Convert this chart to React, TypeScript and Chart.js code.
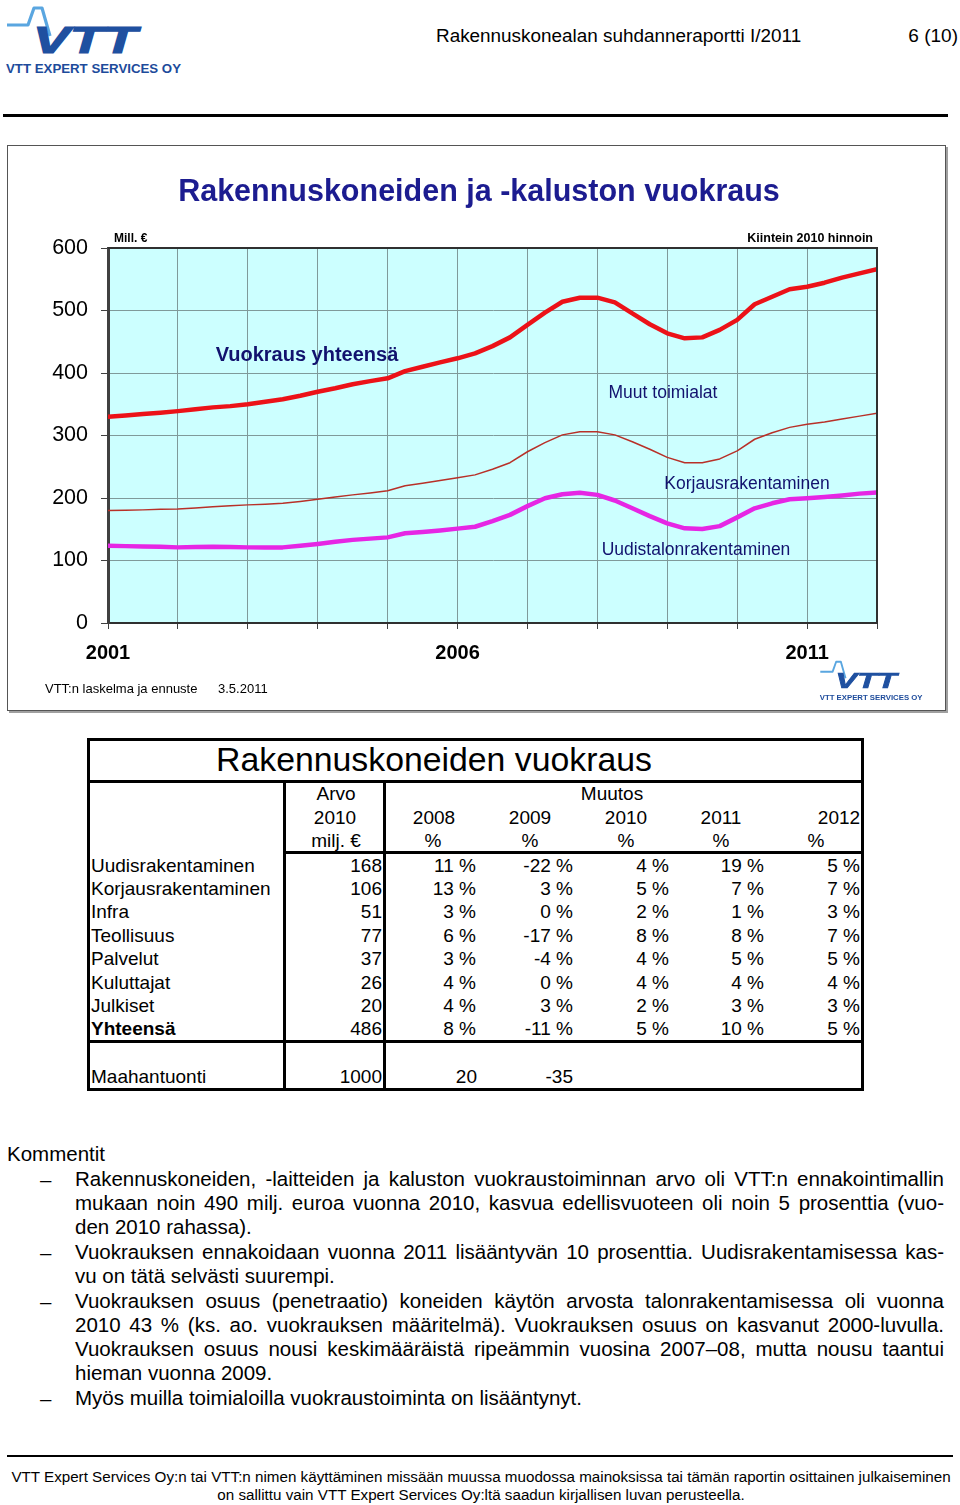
import React, { useEffect, useRef } from "react";
import { Chart, registerables } from "chart.js";

Chart.register(...registerables);

const FONT = '"Liberation Sans", Arial, Helvetica, sans-serif';

// ---- chart data (quarterly, cumulative lines, Mill. €, 2010 prices) ----
const startYear = 2001;
const quarterCount = 45; // 2001Q1 .. 2012Q1 position
const axisYears = [2001, 2002, 2003, 2004, 2005, 2006, 2007, 2008, 2009, 2010, 2011, 2012];
const labelYears = [2001, 2006, 2011];
const yTicks = [0, 100, 200, 300, 400, 500, 600];

const uudistalo = [123.7, 123, 122.5, 122, 121, 121.5, 122, 121.5, 121, 121, 121, 123.5, 126.5, 130, 133, 135, 137, 143.5, 145.5, 148, 151, 154, 163, 173, 187, 199.5, 206, 208.5, 205, 196, 183.5, 171, 159.5, 151.5, 150.5, 155, 169, 183.5, 191.5, 198, 199.5, 201.5, 204, 207, 209];
const korjaus = [180, 180.5, 181, 182, 182.5, 184, 186, 187.5, 189, 190, 191.5, 194.5, 198, 201.5, 205, 208, 211.5, 219.5, 223.5, 228, 232.5, 237, 246, 256.5, 274, 288.5, 301, 306, 306, 301, 290, 278, 265, 256.5, 256.5, 262.5, 275.5, 294, 304.5, 313, 318, 321.5, 326.5, 331, 335.5];
const yhteensa = [330, 332, 334.5, 336.5, 339, 342, 345, 347, 350, 354, 358, 363.5, 370, 375.5, 382, 387, 391.5, 403, 410, 417, 423.5, 431.5, 443, 457, 477, 496.5, 514, 520.5, 520.5, 513, 495.5, 478, 463.5, 455.5, 457, 469, 485, 510, 522, 534, 538, 544.5, 552.5, 559.5, 566];

// ---- table data ----
const rowLabels = ["Uudisrakentaminen", "Korjausrakentaminen", "Infra", "Teollisuus", "Palvelut", "Kuluttajat", "Julkiset", "Yhteensä"];
const arvo2010 = [168, 106, 51, 77, 37, 26, 20, 486];
const chg2008 = [11, 13, 3, 6, 3, 4, 4, 8];
const chg2009 = [-22, 3, 0, -17, -4, 0, 3, -11];
const chg2010 = [4, 5, 2, 8, 4, 4, 2, 5];
const chg2011 = [19, 7, 1, 8, 5, 4, 3, 10];
const chg2012 = [5, 7, 3, 7, 5, 4, 3, 5];
const changeYears = ["2008", "2009", "2010", "2011", "2012"];
const maahantuonti = ["1000", "20", "-35"];

const commentLines: [string, boolean, boolean][] = [
  ["Rakennuskoneiden, -laitteiden ja kaluston vuokraustoiminnan arvo oli VTT:n ennakointimallin", true, true],
  ["mukaan noin 490 milj. euroa vuonna 2010, kasvua edellisvuoteen oli noin 5 prosenttia (vuo-", true, false],
  ["den 2010 rahassa).", false, false],
  ["Vuokrauksen ennakoidaan vuonna 2011 lisääntyvän 10 prosenttia. Uudisrakentamisessa kas-", true, true],
  ["vu on tätä selvästi suurempi.", false, false],
  ["Vuokrauksen osuus (penetraatio) koneiden käytön arvosta talonrakentamisessa oli vuonna", true, true],
  ["2010 43 % (ks. ao. vuokrauksen määritelmä). Vuokrauksen osuus on kasvanut 2000-luvulla.", true, false],
  ["Vuokrauksen osuus nousi keskimääräistä ripeämmin vuosina 2007–08, mutta nousu taantui", true, false],
  ["hieman vuonna 2009.", false, false],
  ["Myös muilla toimialoilla vuokraustoiminta on lisääntynyt.", false, true],
];

const xs = Array.from({ length: quarterCount }, (_, k) => startYear + k / 4);
const toPoints = (vals: number[]) => vals.map((v, i) => ({ x: xs[i], y: v }));

type TP = { x: number; y: number; s: number; b?: boolean; a?: "left" | "center" | "right"; c?: string; children: any; ff?: string };
function T({ x, y, s, b, a = "left", c = "#000", children, ff }: TP) {
  const h = Math.round(s * 1.2);
  const st: any = {
    position: "absolute",
    top: y - h / 2,
    fontSize: s,
    lineHeight: h + "px",
    whiteSpace: "pre",
    fontWeight: b ? "bold" : "normal",
    color: c,
    fontFamily: ff || FONT,
  };
  if (a === "left") st.left = x;
  else if (a === "center") { st.left = x - 600; st.width = 1200; st.textAlign = "center"; }
  else { st.left = x - 1200; st.width = 1200; st.textAlign = "right"; }
  return <div style={st}>{children}</div>;
}

function Box({ l, t, w, h, bg = "#000" }: { l: number; t: number; w: number; h: number; bg?: string }) {
  return <div style={{ position: "absolute", left: l, top: t, width: w, height: h, background: bg }} />;
}

function VttLogo({ left, top, width, height }: { left: number; top: number; width: number; height: number }) {
  return (
    <svg style={{ position: "absolute", left, top }} width={width} height={height} viewBox="0 0 190 80">
      <path d="M7 25 L28 25 L34 8 L42 8 L50 36" stroke="#5aa6e0" strokeWidth="3.2" fill="none" strokeLinejoin="round" />
      <text x="33" y="53" fontFamily={FONT} fontWeight="900" fontStyle="italic" fontSize="37" fill="#1f50a0" stroke="#1f50a0" strokeWidth="1.2" textLength="104" lengthAdjust="spacingAndGlyphs">VTT</text>
      <text x="6" y="73" fontFamily={FONT} fontWeight="bold" fontSize="13" fill="#1d4b9b" textLength="175" lengthAdjust="spacingAndGlyphs">VTT EXPERT SERVICES OY</text>
    </svg>
  );
}

function RentalChart() {
  const ref = useRef<HTMLCanvasElement | null>(null);
  useEffect(() => {
    if (!ref.current) return;
    const GRID = "#7f9a9a";
    const frame = {
      id: "frame",
      beforeDraw(chart: any) {
        const { ctx, chartArea: a } = chart;
        ctx.save();
        ctx.fillStyle = "#ccffff";
        ctx.fillRect(a.left, a.top, a.right - a.left, a.bottom - a.top);
        ctx.restore();
      },
      afterDraw(chart: any) {
        const { ctx, chartArea: a } = chart;
        ctx.save();
        ctx.strokeStyle = "#303030";
        ctx.lineWidth = 2;
        ctx.beginPath();
        ctx.moveTo(a.left, a.top);
        ctx.lineTo(a.right, a.top);
        ctx.lineTo(a.right, a.bottom);
        ctx.stroke();
        ctx.restore();
      },
    };
    const chart = new Chart(ref.current, {
      type: "line",
      data: {
        datasets: [
          { label: "Uudistalonrakentaminen", data: toPoints(uudistalo), borderColor: "#e626e4", borderWidth: 4.5, pointRadius: 0, tension: 0, borderCapStyle: "round", borderJoinStyle: "round" },
          { label: "Korjausrakentaminen", data: toPoints(korjaus), borderColor: "#b83028", borderWidth: 1.5, pointRadius: 0, tension: 0, borderJoinStyle: "round" },
          { label: "Vuokraus yhteensä", data: toPoints(yhteensa), borderColor: "#ec1218", borderWidth: 4.5, pointRadius: 0, tension: 0, borderCapStyle: "round", borderJoinStyle: "round" },
        ],
      } as any,
      options: {
        animation: false,
        responsive: false,
        maintainAspectRatio: false,
        devicePixelRatio: 1,
        layout: { padding: { left: 0, top: 102, right: 67, bottom: 37 } },
        plugins: { legend: { display: false }, tooltip: { enabled: false } },
        scales: {
          x: {
            type: "linear",
            min: axisYears[0],
            max: axisYears[axisYears.length - 1],
            afterBuildTicks: (s: any) => { s.ticks = axisYears.map((v) => ({ value: v })); },
            afterFit: (s: any) => { s.height = 50; },
            ticks: {
              autoSkip: false,
              maxRotation: 0,
              padding: 12,
              color: "#000",
              font: { family: FONT, size: 20, weight: "bold" },
              callback: (v: any) => (labelYears.includes(Number(v)) ? String(v) : ""),
            },
            grid: { color: GRID, lineWidth: 1, drawTicks: true, tickLength: 6, tickColor: "#404040" },
            border: { display: true, color: "#303030", width: 2 },
          },
          y: {
            min: yTicks[0],
            max: yTicks[yTicks.length - 1],
            afterBuildTicks: (s: any) => { s.ticks = yTicks.map((v) => ({ value: v })); },
            afterFit: (s: any) => { s.width = 100; },
            ticks: { padding: 13, color: "#000", font: { family: FONT, size: 21.5 } },
            grid: { color: GRID, lineWidth: 1, drawTicks: true, tickLength: 7, tickColor: "#404040" },
            border: { display: true, color: "#404040", width: 3 },
          },
        },
      } as any,
      plugins: [frame],
    });
    return () => chart.destroy();
  }, []);
  return <canvas ref={ref} width={936} height={564} style={{ position: "absolute", left: 8, top: 146, width: 936, height: 564 }} />;
}

const pct = (v: number) => `${v} %`;

export default function App() {
  const rowY = [865, 888, 911.5, 935, 958, 982, 1005, 1028];
  const chgCols = [chg2008, chg2009, chg2010, chg2011, chg2012];
  const chgRight = [476, 573, 669, 764, 860];
  const yearCenters = [434, 530, 626, 721, 839];
  const pctCenters = [433, 530, 626, 721, 816];
  const navy = "#12126e";
  const commentY = [1179, 1203, 1227, 1252, 1276, 1301, 1325, 1349, 1373, 1398];
  const TS = 19;
  return (
    <div style={{ position: "absolute", left: 0, top: 0, width: 960, height: 1505, overflow: "hidden", background: "#fff", fontFamily: FONT }}>
      {/* header */}
      <VttLogo left={0} top={0} width={190} height={80} />
      <T x={436} y={35} s={18.9}>Rakennuskonealan suhdanneraportti I/2011</T>
      <T x={958} y={35} s={19} a="right">6 (10)</T>
      <Box l={3} t={114} w={945} h={3} />

      {/* chart frame */}
      <div style={{ position: "absolute", left: 7, top: 145, width: 937, height: 564, border: "1px solid #555", boxShadow: "2px 2px 0 #a0a0a0" }} />
      <RentalChart />
      <T x={479} y={190} s={30.5} b a="center" c="#1c1c90">Rakennuskoneiden ja -kaluston vuokraus</T>
      <T x={114} y={238} s={12} b>Mill. €</T>
      <T x={873} y={238} s={12.5} b a="right">Kiintein 2010 hinnoin</T>
      <T x={307} y={354} s={20} b a="center" c={navy}>Vuokraus yhteensä</T>
      <T x={663} y={392} s={17.5} a="center" c={navy}>Muut toimialat</T>
      <T x={747} y={483} s={17.5} a="center" c={navy}>Korjausrakentaminen</T>
      <T x={696} y={549} s={17.5} a="center" c={navy}>Uudistalonrakentaminen</T>
      <T x={45} y={689} s={13}>VTT:n laskelma ja ennuste</T>
      <T x={218} y={689} s={13}>3.5.2011</T>
      <VttLogo left={816} top={657} width={112} height={47} />

      {/* table */}
      <div style={{ position: "absolute", left: 87, top: 738, width: 771, height: 347, border: "3px solid #000" }} />
      <Box l={87} t={780} w={777} h={3} />
      <Box l={283} t={781} w={3} h={309} />
      <Box l={383} t={781} w={3} h={309} />
      <Box l={283} t={851} w={581} h={3} />
      <Box l={87} t={1040} w={777} h={3} />
      <T x={434} y={759} s={33.8} a="center">Rakennuskoneiden vuokraus</T>
      <T x={336} y={793} s={TS} a="center">Arvo</T>
      <T x={335} y={817} s={TS} a="center">2010</T>
      <T x={336} y={840} s={TS} a="center">milj. €</T>
      <T x={612} y={793} s={TS} a="center">Muutos</T>
      {changeYears.map((yr, i) => (
        <React.Fragment key={yr}>
          <T x={yearCenters[i]} y={817} s={TS} a="center">{yr}</T>
          <T x={pctCenters[i]} y={840} s={TS} a="center">%</T>
        </React.Fragment>
      ))}
      {rowLabels.map((lab, r) => (
        <React.Fragment key={lab}>
          <T x={91} y={rowY[r]} s={TS} b={r === 7}>{lab}</T>
          <T x={382} y={rowY[r]} s={TS} a="right">{String(arvo2010[r])}</T>
          {chgCols.map((col, c) => (
            <T key={c} x={chgRight[c]} y={rowY[r]} s={TS} a="right">{pct(col[r])}</T>
          ))}
        </React.Fragment>
      ))}
      <T x={91} y={1076} s={TS}>Maahantuonti</T>
      <T x={382} y={1076} s={TS} a="right">{maahantuonti[0]}</T>
      <T x={477} y={1076} s={TS} a="right">{maahantuonti[1]}</T>
      <T x={573} y={1076} s={TS} a="right">{maahantuonti[2]}</T>

      {/* comments */}
      <T x={7} y={1153} s={20.5}>Kommentit</T>
      {commentLines.map(([txt, just, bullet], i) => (
        <React.Fragment key={i}>
          {bullet && <T x={40} y={commentY[i]} s={20.5}>–</T>}
          <div
            style={{
              position: "absolute",
              left: 75,
              width: 869,
              top: commentY[i] - 12,
              fontSize: 20.5,
              lineHeight: "24px",
              whiteSpace: "nowrap",
              textAlign: just ? "justify" : "left",
              textAlignLast: just ? "justify" : "left",
              fontFamily: FONT,
            } as any}
          >
            {txt}
          </div>
        </React.Fragment>
      ))}

      {/* footer */}
      <Box l={7} t={1455} w={946} h={2} />
      <T x={481} y={1477} s={15.2} a="center">VTT Expert Services Oy:n tai VTT:n nimen käyttäminen missään muussa muodossa mainoksissa tai tämän raportin osittainen julkaiseminen</T>
      <T x={481} y={1495} s={15.2} a="center">on sallittu vain VTT Expert Services Oy:ltä saadun kirjallisen luvan perusteella.</T>
    </div>
  );
}
